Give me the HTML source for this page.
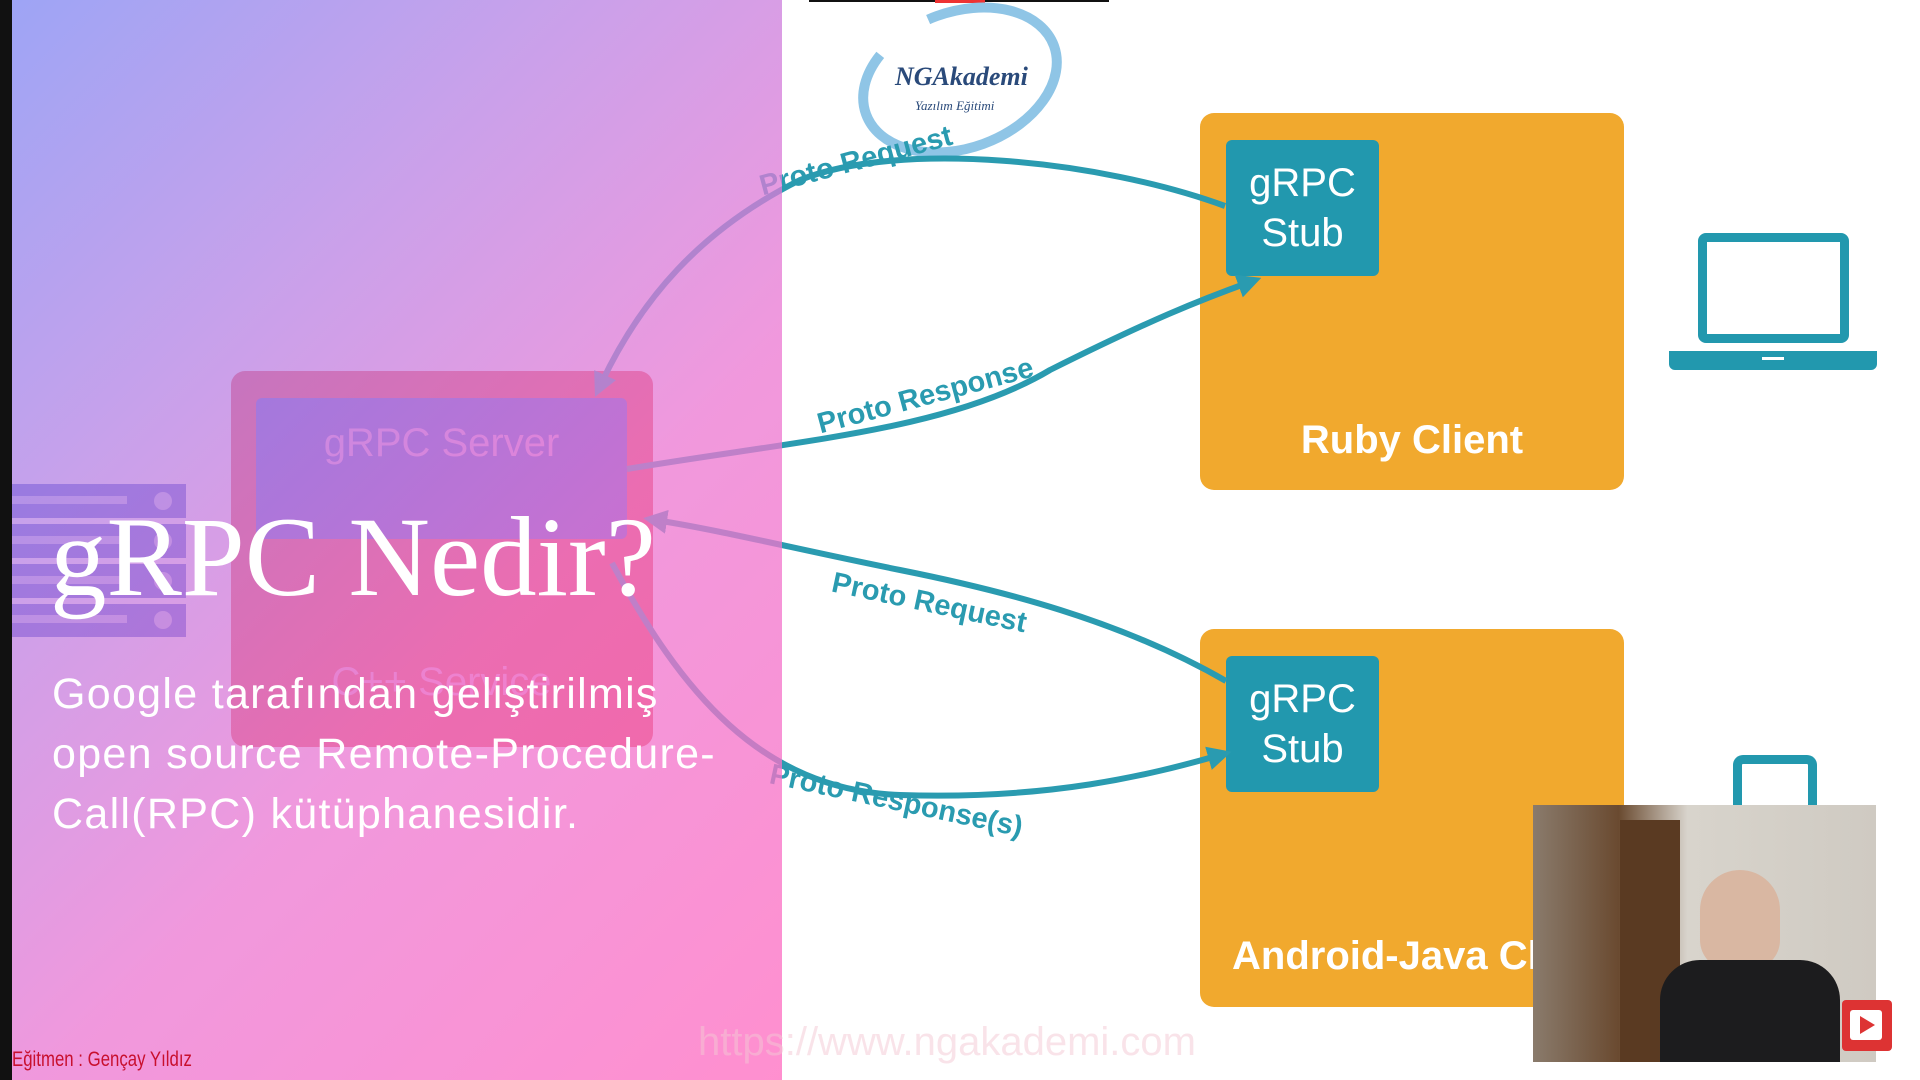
<!DOCTYPE html>
<html><head><meta charset="utf-8"><style>
html,body{margin:0;padding:0;width:1920px;height:1080px;overflow:hidden;background:#fff;font-family:"Liberation Sans",sans-serif}
.abs{position:absolute}
</style></head><body>
<div class="abs" style="left:0;top:0;width:1920px;height:1080px;background:#fff"></div>
<div class="abs" style="left:809px;top:0;width:300px;height:2px;background:#111"></div>
<div class="abs" style="left:935px;top:0;width:50px;height:3px;background:#e33"></div>
<svg class="abs" style="left:840px;top:0" width="240" height="160">
<ellipse cx="120" cy="80" rx="100" ry="68" fill="none" stroke="#8fc5e6" stroke-width="10" stroke-dasharray="330 60" transform="rotate(-20 120 80)"/>
<text x="55" y="85" font-family="Liberation Serif" font-style="italic" font-weight="bold" font-size="26" fill="#2a4a7a">NGAkademi</text>
<text x="75" y="110" font-family="Liberation Serif" font-style="italic" font-size="13" fill="#2a4a7a">Yazılım Eğitimi</text>
</svg>
<div class="abs" style="left:1200px;top:113px;width:424px;height:377px;background:#f1a92e;border-radius:14px"></div>
<div class="abs" style="left:1226px;top:140px;width:153px;height:136px;background:#2298ae;border-radius:6px;color:#fff;font-size:40px;text-align:center;line-height:50px;padding-top:18px;box-sizing:border-box">gRPC<br>Stub</div>
<div class="abs" style="left:1200px;top:418px;width:424px;text-align:center;color:#fff;font-size:40px;font-weight:bold">Ruby Client</div>
<div class="abs" style="left:1200px;top:629px;width:424px;height:378px;background:#f1a92e;border-radius:14px"></div>
<div class="abs" style="left:1226px;top:656px;width:153px;height:136px;background:#2298ae;border-radius:6px;color:#fff;font-size:40px;text-align:center;line-height:50px;padding-top:18px;box-sizing:border-box">gRPC<br>Stub</div>
<div class="abs" style="left:1232px;top:934px;color:#fff;font-size:40px;font-weight:bold;white-space:nowrap">Android-Java Client</div>
<div class="abs" style="left:1698px;top:233px;width:151px;height:110px;border:9px solid #2298ae;box-sizing:border-box;border-radius:8px"></div>
<div class="abs" style="left:1669px;top:351px;width:208px;height:19px;background:#2298ae;border-radius:0 0 6px 6px"></div>
<div class="abs" style="left:1762px;top:357px;width:22px;height:3px;background:#fff"></div>
<div class="abs" style="left:1733px;top:755px;width:84px;height:60px;border:9px solid #2298ae;border-bottom:none;box-sizing:border-box;border-radius:10px 10px 0 0"></div>
<div class="abs" style="left:231px;top:371px;width:422px;height:376px;background:#e84a4a;border-radius:14px"></div>
<div class="abs" style="left:256px;top:398px;width:371px;height:141px;background:#4a5cd0;border-radius:6px;color:#d7a2e6;font-size:40px;text-align:center;line-height:90px">gRPC Server</div>
<div class="abs" style="left:256px;top:660px;width:371px;text-align:center;color:#f3a0c8;font-size:40px">C++ Service</div>
<svg class="abs" style="left:0;top:0" width="1920" height="1080">
<defs><marker id="a" markerWidth="4" markerHeight="4" refX="2" refY="2" orient="auto"><path d="M0,0 L4,2 L0,4 z" fill="#2a9bb0"/></marker></defs>
<g fill="none" stroke="#2a9bb0" stroke-width="6">
<path d="M1225,206 C1100,160 900,140 800,180 C700,230 640,300 600,386" marker-end="url(#a)"/>
<path d="M627,469 C800,440 950,430 1050,370 C1150,320 1200,300 1250,282" marker-end="url(#a)"/>
<path d="M1226,681 C1120,620 1000,590 900,570 C800,550 720,530 655,520" marker-end="url(#a)"/>
<path d="M612,563 C680,690 760,790 900,795 C1050,800 1150,775 1220,755" marker-end="url(#a)"/>
</g>
<g fill="#2a9bb0" font-size="29" font-weight="bold" font-family="Liberation Sans">
<text x="857" y="170" text-anchor="middle" transform="rotate(-15 857 165)">Proto Request</text>
<text x="926" y="405" text-anchor="middle" transform="rotate(-15 926 398)">Proto Response</text>
<text x="929" y="612" text-anchor="middle" transform="rotate(12 929 604)">Proto Request</text>
<text x="896" y="810" text-anchor="middle" transform="rotate(12 896 802)">Proto Response(s)</text>
</g>
<g fill="#4a5cd0">
<rect x="12" y="484" width="174" height="34"/>
<rect x="12" y="524" width="174" height="34"/>
<rect x="12" y="564" width="174" height="34"/>
<rect x="12" y="604" width="174" height="33"/>
</g>
<g fill="#ffffff" opacity="0.6">
<circle cx="163" cy="501" r="9"/><circle cx="163" cy="541" r="9"/><circle cx="163" cy="581" r="9"/><circle cx="163" cy="620" r="9"/>
<rect x="12" y="496" width="115" height="8"/><rect x="12" y="536" width="115" height="8"/><rect x="12" y="576" width="115" height="8"/><rect x="12" y="615" width="115" height="8"/>
</g>
</svg>
<div class="abs" style="left:12px;top:0;width:770px;height:1080px;background:linear-gradient(135deg,#7f88f2 0%,#b883e4 30%,#ec78d2 60%,#ff6cc0 100%);opacity:0.76"></div>
<div class="abs" style="left:0;top:0;width:12px;height:1080px;background:#111"></div>
<div class="abs" style="left:50px;top:493px;color:#fff;font-family:'Liberation Serif',serif;font-size:113px;white-space:nowrap">gRPC Nedir?</div>
<div class="abs" style="left:52px;top:664px;color:#fff;font-size:43px;letter-spacing:1.3px;line-height:60px;white-space:nowrap">Google tarafından geliştirilmiş<br>open source Remote-Procedure-<br>Call(RPC) kütüphanesidir.</div>
<div class="abs" style="left:12px;top:1048px;color:#c8102e;font-size:21px;white-space:nowrap;transform:scaleX(0.8);transform-origin:left">Eğitmen : Gençay Yıldız</div>
<div class="abs" style="left:698px;top:1020px;color:#f4c9d4;font-size:40px;opacity:0.5">https://www.ngakademi.com</div>
<div class="abs" style="left:1533px;top:805px;width:343px;height:257px;background:linear-gradient(90deg,#8a7b6c 0%,#6a4a30 25%,#d8d4cc 45%,#cfcac2 100%)"></div>
<div class="abs" style="left:1620px;top:820px;width:60px;height:242px;background:#5a3a22"></div>
<div class="abs" style="left:1700px;top:870px;width:80px;height:100px;background:#d9b7a2;border-radius:40px 40px 30px 30px"></div>
<div class="abs" style="left:1660px;top:960px;width:180px;height:102px;background:#1c1c1e;border-radius:40px 40px 0 0"></div>
<div class="abs" style="left:1842px;top:1000px;width:50px;height:51px;background:#d33;border-radius:4px"></div>
<div class="abs" style="left:1850px;top:1010px;width:32px;height:30px;background:#fff;border-radius:3px"></div>
<div class="abs" style="left:1860px;top:1016px;width:0;height:0;border-left:15px solid #d33;border-top:9px solid transparent;border-bottom:9px solid transparent"></div>
</body></html>
